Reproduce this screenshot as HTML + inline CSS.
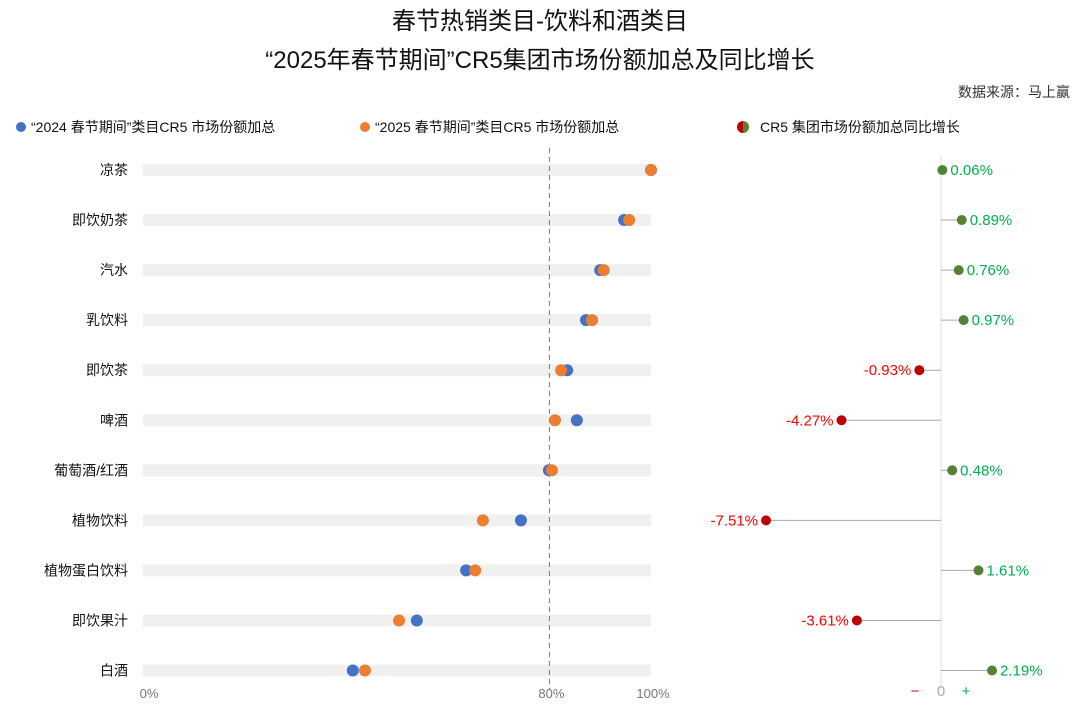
<!DOCTYPE html>
<html><head><meta charset="utf-8"><style>
body{margin:0;background:#fff;}
svg{display:block;font-family:"Liberation Sans","Noto Sans CJK SC",sans-serif;}
</style></head><body>
<svg id="c" width="1080" height="714" viewBox="0 0 1080 714">
<text x="540" y="29" text-anchor="middle" font-size="24" fill="#111">春节热销类目-饮料和酒类目</text>
<text x="540" y="68" text-anchor="middle" font-size="24" fill="#111">“2025年春节期间”CR5集团市场份额加总及同比增长</text>
<text x="1070" y="97" text-anchor="end" font-size="14" fill="#333">数据来源：马上赢</text>
<g>
<circle cx="21" cy="127" r="5" fill="#4472C4"/>
<text x="31" y="132" font-size="14" fill="#111">“2024 春节期间”类目CR5 市场份额加总</text>
<circle cx="365" cy="127" r="5" fill="#ED7D31"/>
<text x="375" y="132" font-size="14" fill="#111">“2025 春节期间”类目CR5 市场份额加总</text>
<path d="M743 121 A6 6 0 0 0 743 133 Z" fill="#C00000"/><path d="M743 121 A6 6 0 0 1 743 133 Z" fill="#548235"/>
<text x="760" y="132" font-size="14" fill="#111">CR5 集团市场份额加总同比增长</text>
</g>
<g id="plot"></g>
</svg>
<script>
const categories=["凉茶","即饮奶茶","汽水","乳饮料","即饮茶","啤酒","葡萄酒/红酒","植物饮料","植物蛋白饮料","即饮果汁","白酒"];
const share2024=[100,94.7,90.0,87.2,83.5,85.4,79.9,74.4,63.6,53.9,41.3];
const share2025=[100,95.7,90.7,88.4,82.3,81.1,80.5,66.9,65.4,50.4,43.7];
const growth=[0.06,0.89,0.76,0.97,-0.93,-4.27,0.48,-7.51,1.61,-3.61,2.19];
const growthLabels=["0.06%","0.89%","0.76%","0.97%","-0.93%","-4.27%","0.48%","-7.51%","1.61%","-3.61%","2.19%"];
const xTicks=[0,80,100];
const NS="http://www.w3.org/2000/svg";
const g=document.getElementById("plot");
const xs=v=>143+v*5.08;
const ys=i=>170+i*50.05;
const gx=v=>941+v*23.3;
function mk(t,a,p){const e=document.createElementNS(NS,t);for(const k in a)e.setAttribute(k,a[k]);(p||g).appendChild(e);return e;}
let z=mk("line",{x1:gx(0),x2:gx(0),y1:155,y2:690,stroke:"#eee","stroke-width":2});


categories.forEach((c,i)=>{
  const y=ys(i);
  let r=mk("rect",{x:xs(0),y:y-6,width:xs(100)-xs(0),height:12,fill:"#f0f0f0"});
  
  
  let t=mk("text",{x:128,y:y+5,"text-anchor":"end","font-size":14,fill:"#111"});t.textContent=c;
  
  
});
let d=mk("line",{x1:xs(80),x2:xs(80),y1:148,y2:690,stroke:"#777","stroke-dasharray":"5,4","stroke-width":1});


xTicks.forEach(v=>{
  let t=mk("text",{x:xs(v)+(v==0?6:2),y:698,"text-anchor":"middle","font-size":13,fill:"#777"});t.textContent=v+"%";
  
  
});
categories.forEach((c,i)=>{
  const y=ys(i);
  let b=mk("circle",{cx:xs(share2024[i]),cy:y,r:6,fill:"#4472C4"});
  
  
  let o=mk("circle",{cx:xs(share2025[i]),cy:y,r:6,fill:"#ED7D31"});
  
  
  const v=growth[i],pos=v>=0;
  let l=mk("line",{x1:gx(0),x2:gx(v),y1:y,y2:y,stroke:"#aaa","stroke-width":1});
  
  
  let p=mk("circle",{cx:gx(v),cy:y,r:5,fill:pos?"#548235":"#C00000"});
  
  
  let t=mk("text",{x:gx(v)+(pos?8:-8),y:y+5,"text-anchor":pos?"start":"end","font-size":15,fill:pos?"#00B050":"#FF0000"});
  t.textContent=growthLabels[i];
  
  
});
[["−",915,"#FF0000"],["0",941,"#aaa"],["+",966,"#00B050"]].forEach(a=>{
  let t=mk("text",{x:a[1],y:696,"text-anchor":"middle","font-size":15,fill:a[2]});t.textContent=a[0];
  
  
});
</script>
</body></html>
